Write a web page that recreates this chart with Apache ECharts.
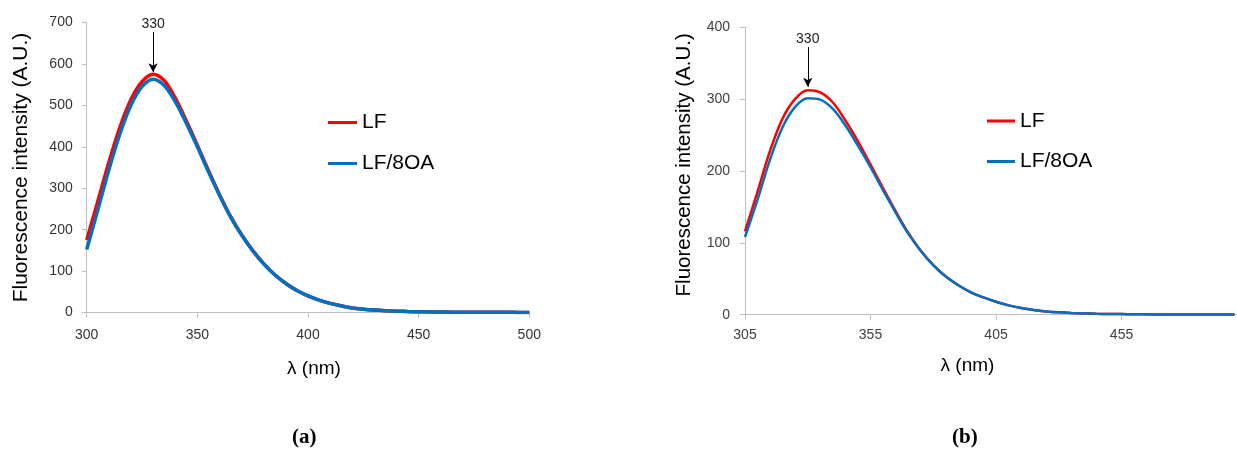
<!DOCTYPE html>
<html>
<head>
<meta charset="utf-8">
<title>Fluorescence spectra</title>
<script src="https://cdn.jsdelivr.net/npm/echarts@6/dist/echarts.min.js"></script>
<style>
  html, body { margin: 0; padding: 0; background: #ffffff; }
  #chart { width: 1237px; height: 450px; }
</style>
</head>
<body>
<div id="chart"></div>
<script>
// Panel (a): emission spectra, 300-500 nm
const wavelengthA = [300, 305, 310, 315, 320, 325, 330, 335, 340, 345, 350, 355, 360, 365, 370, 375, 380, 385, 390, 395, 400,
                     405, 410, 415, 420, 425, 430, 435, 440, 445, 450, 455, 460, 465, 470, 475, 480, 485, 490, 495, 500];
const lfA     = [175, 268, 362, 447, 514, 557, 575, 560, 518, 463, 404, 343, 285, 232, 188, 150, 118, 91, 70, 53, 40,
                 30, 22, 16, 11, 8, 5.8, 4.3, 3.2, 2.4, 1.8, 1.4, 1.1, 0.9, 0.7, 0.6, 0.5, 0.4, 0.4, 0.3, 0.3];
const lf8oaA  = [152, 247, 344, 431, 500, 545, 563, 548, 509, 457, 400, 340, 283, 231, 187, 149, 117, 91, 70, 53, 40,
                 30, 22, 16, 11, 8, 5.8, 4.3, 3.2, 2.4, 1.8, 1.4, 1.1, 0.9, 0.7, 0.6, 0.5, 0.4, 0.4, 0.3, 0.3];

// Panel (b): emission spectra, 305-500 nm
const wavelengthB = [305, 310, 315, 320, 325, 330, 335, 340, 345, 350, 355, 360, 365, 370, 375, 380, 385, 390, 395, 400,
                     405, 410, 415, 420, 425, 430, 435, 440, 445, 450, 455, 460, 465, 470, 475, 480, 485, 490, 495, 500];
const lfB     = [116, 171, 228, 273, 300, 312, 309, 295, 270, 241, 209, 176, 144, 114, 89, 69, 53, 41, 31, 24,
                 18, 13, 9.3, 6.5, 4.6, 3.3, 2.4, 1.8, 1.3, 1.0, 0.8, 0.6, 0.5, 0.4, 0.4, 0.3, 0.3, 0.3, 0.2, 0.2];
const lf8oaB  = [108, 160, 216, 261, 289, 301, 299, 286, 263, 235, 205, 173, 142, 113, 89, 69, 53, 41, 31, 24,
                 18, 13, 9.3, 6.5, 4.6, 3.3, 2.4, 1.8, 1.3, 1.0, 0.8, 0.6, 0.5, 0.4, 0.4, 0.3, 0.3, 0.3, 0.2, 0.2];

// Axis ticks and annotations
const ticksAX = [300, 350, 400, 450, 500];
const ticksBX = [305, 355, 405, 455];
const peakLabel = '330';
const peakWavelength = 330;
const arrowA = [677, 580];   // arrow start / tip, intensity units of panel (a)
const arrowB = [372, 317];   // arrow start / tip, intensity units of panel (b)

const seriesNames = ['LF', 'LF/8OA'];
const RED = '#ff0000';
const BLUE = '#0070c0';
const SANS = '"Liberation Sans", Arial, sans-serif';
const SERIF = '"Liberation Serif", "DejaVu Serif", serif';

const zip = (xs, ys) => xs.map((x, i) => [x, ys[i]]);

function peakArrow(range) {
  return {
    silent: true,
    animation: false,
    symbol: ['none', 'arrow'],
    symbolSize: [7, 9],
    lineStyle: { color: '#000000', width: 1, type: 'solid' },
    label: {
      show: true, position: 'start', formatter: peakLabel, distance: 1,
      color: '#222222', fontFamily: SANS, fontSize: 14
    },
    data: [[{ coord: [peakWavelength, range[0]] }, { coord: [peakWavelength, range[1]] }]]
  };
}

const axisLineStyle = { lineStyle: { color: '#bfbfbf', width: 1 } };
const captionRich = {
  p: { fontFamily: SERIF, fontSize: 21, color: '#000' },
  b: { fontFamily: SERIF, fontSize: 21, fontWeight: 'bold', color: '#000' }
};

const chart = echarts.init(document.getElementById('chart'), null, { renderer: 'canvas' });

chart.setOption({
  animation: false,
  backgroundColor: '#ffffff',
  title: [
    { text: '{p|(}{b|a}{p|)}', left: 292, top: 427, padding: 0, textStyle: { rich: captionRich } },
    { text: '{p|(}{b|b}{p|)}', left: 952, top: 427, padding: 0, textStyle: { rich: captionRich } }
  ],
  legend: [
    {
      orient: 'vertical', left: 328, top: 112, padding: 0, itemWidth: 29, itemHeight: 3, itemGap: 20,
      icon: 'rect', data: seriesNames, selectedMode: false,
      textStyle: { fontFamily: SANS, fontSize: 21, color: '#000' }
    },
    {
      orient: 'vertical', left: 987, top: 110.5, padding: 0, itemWidth: 28, itemHeight: 3, itemGap: 19.5,
      icon: 'rect', data: seriesNames, selectedMode: false,
      textStyle: { fontFamily: SANS, fontSize: 21, color: '#000' }
    }
  ],
  grid: [
    { left: 86.7, top: 22.5, width: 442.6, height: 290 },
    { left: 745, top: 27, width: 492, height: 287.7 }
  ],
  xAxis: [
    {
      type: 'value', gridIndex: 0, min: 300, max: 500, interval: 50,
      name: 'λ (nm)', nameLocation: 'middle', nameGap: 47,
      nameTextStyle: { fontFamily: SANS, fontSize: 19, color: '#000', padding: [0, 0, 0, 12] },
      axisLine: axisLineStyle,
      axisTick: { show: true, length: 5, lineStyle: { color: '#bfbfbf' }, customValues: ticksAX },
      axisLabel: { margin: 16, fontFamily: SANS, fontSize: 14, color: '#333', customValues: ticksAX },
      splitLine: { show: false }
    },
    {
      type: 'value', gridIndex: 1, min: 305, max: 501,
      name: 'λ (nm)', nameLocation: 'middle', nameGap: 42,
      nameTextStyle: { fontFamily: SANS, fontSize: 19, color: '#000', padding: [0, 47, 0, 0] },
      axisLine: axisLineStyle,
      axisTick: { show: true, length: 5, lineStyle: { color: '#bfbfbf' }, customValues: ticksBX },
      axisLabel: { margin: 13, fontFamily: SANS, fontSize: 14, color: '#404040', customValues: ticksBX },
      splitLine: { show: false }
    }
  ],
  yAxis: [
    {
      type: 'value', gridIndex: 0, min: 0, max: 700, interval: 100,
      name: 'Fluorescence intensity (A.U.)', nameLocation: 'middle', nameGap: 55,
      nameTextStyle: { fontFamily: SANS, fontSize: 21, color: '#000' },
      axisLine: { show: true, lineStyle: { color: '#bfbfbf', width: 1 } },
      axisTick: { show: true, length: 5, lineStyle: { color: '#bfbfbf' } },
      axisLabel: { margin: 14, fontFamily: SANS, fontSize: 14, color: '#333' },
      splitLine: { show: false }
    },
    {
      type: 'value', gridIndex: 1, min: 0, max: 400, interval: 100,
      name: 'Fluorescence intensity (A.U.)', nameLocation: 'middle', nameGap: 50,
      nameTextStyle: { fontFamily: SANS, fontSize: 20.5, color: '#000', padding: [0, 0, 0, 12] },
      axisLine: { show: true, lineStyle: { color: '#bfbfbf', width: 1 } },
      axisTick: { show: true, length: 5, lineStyle: { color: '#bfbfbf' } },
      axisLabel: { margin: 15, fontFamily: SANS, fontSize: 14, color: '#404040' },
      splitLine: { show: false }
    }
  ],
  series: [
    {
      name: 'LF', type: 'line', xAxisIndex: 0, yAxisIndex: 0, smooth: 0.35, showSymbol: false,
      lineStyle: { color: RED, width: 3.5 }, itemStyle: { color: RED },
      data: zip(wavelengthA, lfA), markLine: peakArrow(arrowA)
    },
    {
      name: 'LF/8OA', type: 'line', xAxisIndex: 0, yAxisIndex: 0, smooth: 0.35, showSymbol: false,
      lineStyle: { color: BLUE, width: 3.5 }, itemStyle: { color: BLUE },
      data: zip(wavelengthA, lf8oaA)
    },
    {
      name: 'LF', type: 'line', xAxisIndex: 1, yAxisIndex: 1, smooth: 0.35, showSymbol: false,
      lineStyle: { color: RED, width: 2.5 }, itemStyle: { color: RED },
      data: zip(wavelengthB, lfB), markLine: peakArrow(arrowB)
    },
    {
      name: 'LF/8OA', type: 'line', xAxisIndex: 1, yAxisIndex: 1, smooth: 0.35, showSymbol: false,
      lineStyle: { color: BLUE, width: 2.5 }, itemStyle: { color: BLUE },
      data: zip(wavelengthB, lf8oaB)
    }
  ]
});
</script>
</body>
</html>
